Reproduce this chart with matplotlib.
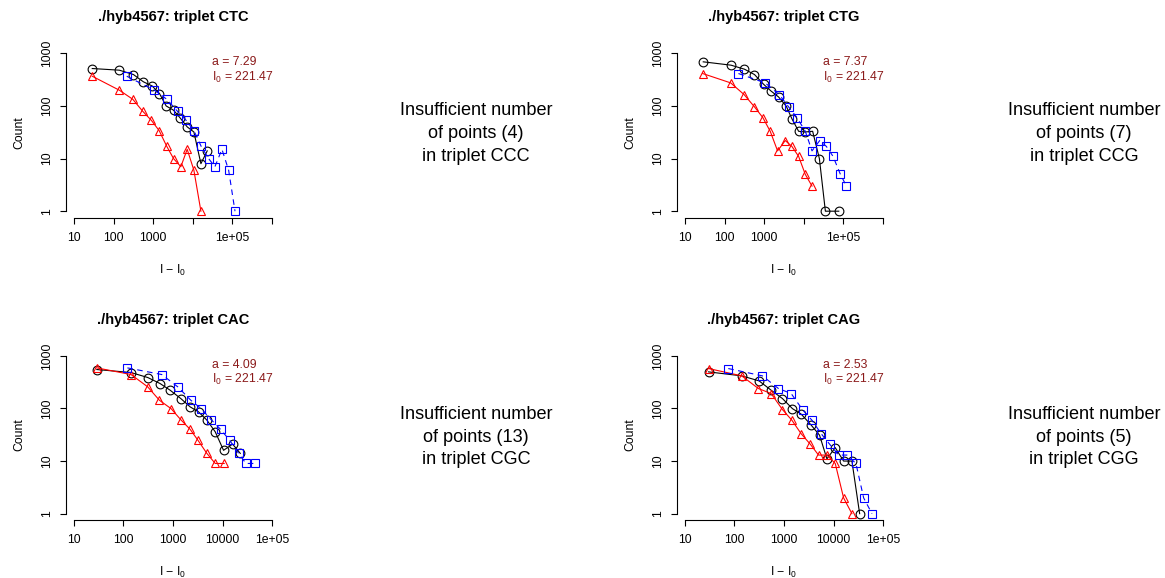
import matplotlib
matplotlib.use("Agg")
import matplotlib.pyplot as plt
from matplotlib.ticker import FixedLocator, FixedFormatter, NullLocator

plt.rcParams['font.family'] = ['Liberation Sans', 'DejaVu Sans']
plt.rcParams['mathtext.fontset'] = 'custom'
plt.rcParams['mathtext.rm'] = 'Liberation Sans'
plt.rcParams['mathtext.it'] = 'Liberation Sans:italic'
plt.rcParams['mathtext.bf'] = 'Liberation Sans:bold'

# Triplet CTC
ctc_a = 7.29
ctc_black_x = [29, 140, 317, 568, 940, 1442, 2123, 3260, 4800, 7210, 10640, 16000, 23100]
ctc_black_y = [514, 478, 395, 287, 240, 172, 100, 83, 59, 40, 32, 8, 14]
ctc_red_x = [29, 140, 305, 546, 904, 1413, 2207, 3260, 4990, 7210, 10640, 16000]
ctc_red_y = [367, 199, 134, 79, 53, 34, 17, 10, 7, 15, 6, 1]
ctc_blue_x = [215, 1077, 2207, 4110, 6810, 10640, 16300, 25000, 36100, 54300, 80200, 116000]
ctc_blue_y = [367, 199, 134, 79, 53, 34, 17, 10, 7, 15, 6, 1]

# Triplet CTG
ctg_a = 7.37
ctg_black_x = [29, 146, 318, 569, 961, 1475, 2307, 3606, 5010, 7390, 10900, 16700, 24700, 35000, 76200]
ctg_black_y = [689, 595, 499, 395, 259, 193, 148, 99, 57, 33, 32, 33, 10, 1, 1]
ctg_red_x = [28, 143, 312, 569, 925, 1419, 2178, 3404, 5010, 7390, 10900, 16100]
ctg_red_y = [413, 274, 164, 96, 60, 33, 14, 22, 17, 11, 5, 3]
ctg_blue_x = [224, 1059, 2399, 4130, 6720, 10900, 16100, 25200, 37100, 54700, 83900, 119000]
ctg_blue_y = [413, 274, 164, 96, 60, 33, 14, 22, 17, 11, 5, 3]

# Triplet CAC
cac_a = 4.09
cac_black_x = [29, 142, 309, 549, 875, 1438, 2222, 3277, 4827, 7116, 10490, 15950, 22800]
cac_black_y = [549, 481, 387, 297, 222, 154, 107, 86, 60, 36, 16, 21, 14]
cac_red_x = [29, 142, 309, 532, 916, 1438, 2222, 3174, 4827, 7116, 10800]
cac_red_y = [590, 441, 257, 143, 99, 61, 40, 25, 14, 9, 9]
cac_blue_x = [120, 593, 1250, 2291, 3707, 5903, 9120, 13870, 21100, 29700, 44500]
cac_blue_y = [590, 441, 257, 143, 99, 61, 40, 25, 14, 9, 9]

# Triplet CAG
cag_a = 2.53
cag_black_x = [30, 140, 314, 550, 931, 1484, 2222, 3487, 5220, 7350, 10820, 15950, 23500, 33650]
cag_black_y = [495, 416, 334, 222, 154, 99, 78, 49, 31, 11, 18, 10, 10, 1]
cag_red_x = [30, 140, 304, 550, 931, 1438, 2222, 3382, 4980, 7350, 10820, 15950, 23500]
cag_red_y = [573, 416, 239, 192, 95, 60, 33, 21, 13, 13, 9, 2, 1]
cag_blue_x = [75, 366, 773, 1394, 2363, 3650, 5640, 8310, 12650, 18630, 28330, 40500, 59700]
cag_blue_y = [573, 416, 239, 192, 95, 60, 33, 21, 13, 13, 9, 2, 1]

I0 = 221.47
y_ticks = [1, 10, 100, 1000]
x_ticks_wide = [10, 100, 1000, 10000, 1e5, 1e6]
x_labels_wide = ["10", "100", "1000", "", "1e+05", ""]
x_ticks_narrow = [10, 100, 1000, 10000, 1e5]
x_labels_narrow = ["10", "100", "1000", "10000", "1e+05"]

W, H = 1165, 578
fig = plt.figure(figsize=(W / 100, H / 100), dpi=100)
FS = 8.8


def px_box(x0, x1, ytop, ybot):
    return [x0 / W, 1 - ybot / H, (x1 - x0) / W, (ybot - ytop) / H]


def draw_panel(box, title, a, bx, by, rx, ry, ux, uy, xticks, xlabels):
    ax = fig.add_axes(box)
    ax.set_xscale("log")
    ax.set_yscale("log")
    # R style: 4% padding around the axis range
    lo, hi = xticks[0], xticks[-1]
    pad = (len(xticks) - 1) * 0.04
    ax.set_xlim(lo / 10 ** pad, hi * 10 ** pad)
    ax.set_ylim(10 ** -0.12, 10 ** 3.12)

    ax.plot(bx, by, color="black", lw=0.8, marker="o", ms=6.3, mfc="none", mew=0.8)
    ax.plot(rx, ry, color="red", lw=0.8, marker="^", ms=6.3, mfc="none", mew=0.8)
    ax.plot(ux, uy, color="blue", lw=0.8, ls=(0, (5, 4)), marker="s", ms=5.6,
            mfc="none", mew=0.8)

    for side in ["top", "right"]:
        ax.spines[side].set_visible(False)
    ax.spines["left"].set_bounds(1, 1000)
    ax.spines["bottom"].set_bounds(lo, hi)
    ax.spines["left"].set_linewidth(0.8)
    ax.spines["bottom"].set_linewidth(0.8)

    ax.xaxis.set_major_locator(FixedLocator(xticks))
    ax.xaxis.set_major_formatter(FixedFormatter(xlabels))
    ax.yaxis.set_major_locator(FixedLocator(y_ticks))
    ax.yaxis.set_major_formatter(FixedFormatter([str(t) for t in y_ticks]))
    ax.xaxis.set_minor_locator(NullLocator())
    ax.yaxis.set_minor_locator(NullLocator())
    ax.tick_params(axis="x", length=4.3, width=0.8, labelsize=FS, pad=6)
    ax.tick_params(axis="y", length=4.3, width=0.8, labelsize=FS, pad=5)
    for lab in ax.get_yticklabels():
        lab.set_rotation(90)
        lab.set_va("center")

    h = box[3] * H
    w = box[2] * W
    ax.text(0.5, 1 + 29.5 / h, title, transform=ax.transAxes, ha="center",
            va="center", fontsize=10.5, fontweight="bold")
    ax.text(0.5, -52.5 / h, "I \u2212 $\\mathrm{I_0}$", transform=ax.transAxes,
            ha="center", va="center", fontsize=FS)
    ax.text(-47 / w, 0.5, "Count", transform=ax.transAxes, ha="center",
            va="center", rotation=90, fontsize=FS)

    # fitted parameters
    ax.text(0.682, 0.912, "a = %.2f" % a, transform=ax.transAxes,
            ha="left", va="center", fontsize=FS, color="#8B1A1A")
    ax.text(0.682, 0.824, "$\\mathrm{I_0}$ = %.2f" % I0, transform=ax.transAxes,
            ha="left", va="center", fontsize=FS, color="#8B1A1A")
    return ax


draw_panel(px_box(66, 280, 47, 217.5), "./hyb4567: triplet CTC", ctc_a,
           ctc_black_x, ctc_black_y, ctc_red_x, ctc_red_y, ctc_blue_x, ctc_blue_y,
           x_ticks_wide, x_labels_wide)
draw_panel(px_box(677, 891, 47, 217.5), "./hyb4567: triplet CTG", ctg_a,
           ctg_black_x, ctg_black_y, ctg_red_x, ctg_red_y, ctg_blue_x, ctg_blue_y,
           x_ticks_wide, x_labels_wide)
draw_panel(px_box(66, 280, 349.5, 520), "./hyb4567: triplet CAC", cac_a,
           cac_black_x, cac_black_y, cac_red_x, cac_red_y, cac_blue_x, cac_blue_y,
           x_ticks_narrow, x_labels_narrow)
draw_panel(px_box(677, 891, 349.5, 520), "./hyb4567: triplet CAG", cag_a,
           cag_black_x, cag_black_y, cag_red_x, cag_red_y, cag_blue_x, cag_blue_y,
           x_ticks_narrow, x_labels_narrow)

# triplets without enough points to fit
skipped = [("CCC", 4, 476, 133.5), ("CCG", 7, 1084, 133.5),
           ("CGC", 13, 476, 437), ("CGG", 5, 1084, 437)]
for name, n, cx, cy in skipped:
    fig.text(cx / W, 1 - cy / H,
             "Insufficient number\nof points (%d)\nin triplet %s" % (n, name),
             ha="center", va="center", fontsize=13.1, linespacing=1.45)

fig.savefig("out.png", dpi=100)
